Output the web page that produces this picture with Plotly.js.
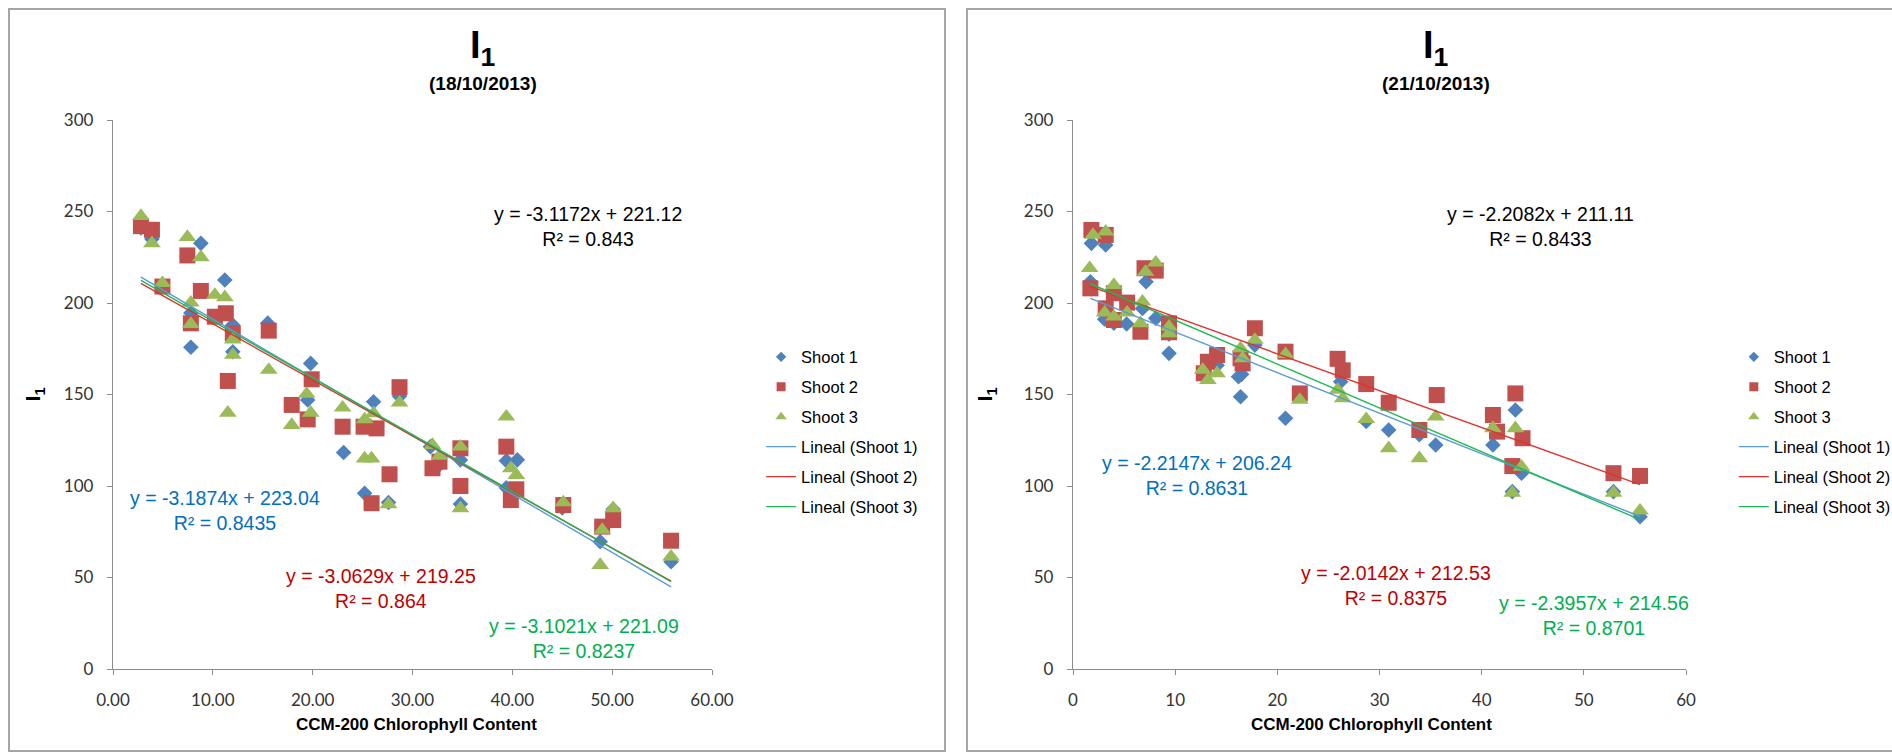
<!DOCTYPE html>
<html>
<head>
<meta charset="utf-8">
<script src="https://cdn.plot.ly/plotly-3.0.1.min.js"></script>
<style>
  html, body { margin: 0; padding: 0; background: #ffffff; }
  body { width: 1892px; height: 756px; position: relative; overflow: hidden; }
  .frame { position: absolute; border: 2px solid #a6a6a6; box-sizing: border-box; }
  .plot { position: absolute; top: 0; width: 946px; height: 756px; }
</style>
</head>
<body>
<div class="frame" style="left:8px; top:8px; width:938px; height:744px;"></div>
<div class="frame" style="left:966px; top:8px; width:940px; height:744px;"></div>
<div id="chartL" class="plot" style="left:0px;"></div>
<div id="chartR" class="plot" style="left:946px;"></div>
<script>
// ---------- Chart 1 : 18/10/2013 ----------
const titleL = "(18/10/2013)";
const L_s1_x = [2.8, 3.9, 7.8, 7.8, 8.8, 11.2, 12.0, 12.0, 15.5, 19.8, 19.5, 26.1, 28.7, 23.1, 25.2, 27.6, 31.8, 32.6, 34.8, 34.8, 39.4, 40.5, 39.4, 45.0, 48.8, 50.1, 55.9];
const L_s1_y = [241, 235, 194.5, 175.8, 232.6, 212.6, 188, 173.4, 189, 167, 147, 146, 149, 118.3, 96, 91, 121.5, 111, 114.2, 90.2, 113.8, 114.3, 99, 88, 69.6, 87.3, 58.6];
const L_s2_x = [2.8, 3.9, 7.45, 4.95, 8.8, 11.3, 10.2, 7.8, 12.0, 15.6, 11.5, 19.9, 17.9, 19.5, 23.0, 25.1, 26.4, 28.7, 27.7, 25.9, 32.0, 32.7, 34.8, 34.8, 39.4, 40.4, 39.85, 45.1, 49.0, 50.1, 55.9];
const L_s2_y = [242, 240, 226, 209, 206.6, 194.4, 192.5, 188.9, 183.4, 184.9, 157.4, 158.3, 144.3, 136.4, 132.4, 132.4, 131.5, 154, 106.4, 90.6, 109.7, 113.3, 120.6, 100, 121.5, 98.2, 92.3, 89.6, 77.8, 81.4, 70.1];
const L_s3_x = [2.8, 3.9, 7.45, 8.8, 4.95, 10.2, 11.2, 7.8, 7.8, 12.0, 12.0, 15.6, 11.5, 19.4, 19.8, 17.9, 23.0, 25.2, 26.1, 28.7, 25.2, 25.9, 27.6, 32.0, 32.7, 34.8, 34.8, 39.4, 39.85, 40.4, 45.1, 49.0, 48.8, 50.1, 55.9];
const L_s3_y = [247.5, 232.6, 236, 225, 210.8, 204.4, 203.1, 200.2, 188.5, 180, 171.6, 163.4, 140, 150.3, 140, 133.3, 142.8, 136.4, 139.7, 145.5, 115, 115, 90, 122.4, 116.4, 121.5, 87.8, 137.9, 109.7, 106, 91, 76, 56.8, 87.8, 61.4];
const L_slopes = [-3.1874, -3.0629, -3.1021];
const L_intercepts = [223.04, 219.25, 221.09];
const L_r2 = [0.8435, 0.864, 0.8237];
const L_all = [-3.1172, 221.12, 0.843];
const L_xTickLabels = ["0.00", "10.00", "20.00", "30.00", "40.00", "50.00", "60.00"];

// ---------- Chart 2 : 21/10/2013 ----------
const titleR = "(21/10/2013)";
const R_s1_x = [1.8, 3.2, 1.7, 7.15, 5.25, 6.8, 3.1, 4.0, 8.1, 9.4, 9.4, 12.8, 14.1, 16.2, 16.5, 16.4, 17.8, 20.8, 22.2, 26.2, 28.7, 30.9, 33.9, 35.5, 41.1, 43.3, 43.9, 43.0, 52.9, 55.5];
const R_s1_y = [232.6, 231.7, 211.6, 211.6, 188.5, 197, 191.1, 189, 191.6, 183, 172.5, 160, 166, 159.7, 161, 148.8, 177, 137, 150, 157, 135.3, 130.6, 128, 122.4, 122.4, 141.5, 107, 96.9, 96.9, 83.2];
const R_s2_x = [1.8, 3.2, 1.7, 7.0, 8.1, 4.0, 5.3, 6.6, 3.2, 4.0, 9.4, 9.4, 12.8, 13.2, 14.1, 16.4, 16.6, 17.8, 20.8, 22.2, 25.9, 26.4, 28.7, 30.9, 33.9, 35.6, 41.1, 41.5, 43.3, 44.0, 43.0, 52.9, 55.5];
const R_s2_y = [239.9, 237.2, 208, 219, 217.7, 205.3, 200.2, 184.3, 197.1, 190.7, 188.9, 184, 161.6, 167.9, 171.6, 169.8, 167, 186.2, 173.4, 150.6, 169.5, 163.2, 155.7, 145.5, 130.6, 149.7, 138.8, 129.7, 150.6, 126.1, 110.9, 107, 105.5];
const R_s3_x = [1.96, 3.2, 1.63, 7.1, 8.1, 4.0, 5.3, 6.8, 6.6, 3.1, 4.0, 9.4, 9.4, 12.7, 13.2, 14.1, 16.4, 16.6, 17.8, 20.8, 22.2, 25.9, 26.4, 28.7, 30.9, 33.9, 35.5, 41.1, 43.3, 43.9, 43.0, 52.9, 55.5];
const R_s3_y = [237.2, 239, 219, 217, 222, 209.8, 194.7, 200.7, 188.9, 194.7, 192.5, 187, 183.4, 163.4, 157.9, 161.6, 175.2, 169.8, 179.8, 172, 147, 152.5, 147.9, 136.5, 120.6, 115.1, 137.9, 131.5, 131.5, 110.5, 96.3, 96.3, 86.5];
const R_slopes = [-2.2147, -2.0142, -2.3957];
const R_intercepts = [206.24, 212.53, 214.56];
const R_r2 = [0.8631, 0.8375, 0.8701];
const R_all = [-2.2082, 211.11, 0.8433];
const R_xTickLabels = ["0", "10", "20", "30", "40", "50", "60"];

const xTickVals = [0, 10, 20, 30, 40, 50, 60];
const yTickVals = [0, 50, 100, 150, 200, 250, 300];
const seriesNames = ["Shoot 1", "Shoot 2", "Shoot 3"];
const trendNames = ["Lineal (Shoot 1)", "Lineal (Shoot 2)", "Lineal (Shoot 3)"];

// styles
const markerColors = ["#4f81bd", "#c0504d", "#9bbb59"];
const markerSymbols = ["diamond", "square", "triangle-up"];
const markerSizes = [12, 16, 15.5];
const legendMarkerSizes = [8, 9, 10];
const lineColors = ["#5b9bd5", "#e0322c", "#1db954"];
const eqColors = ["#0070c0", "#c00000", "#00b050"];
const sans = "'Liberation Sans', Arial, sans-serif";
const tickFam = "Lato, 'Open Sans', sans-serif";

function eqText(m, b, r2) {
  const sign = b >= 0 ? " + " : " - ";
  return "y = " + m + "x" + sign + Math.abs(b) + "<br>R\u00b2 = " + r2;
}

function build(divId, xs, ys, slopes, intercepts, r2s, all, title, xTickLabels, cfg) {
  const traces = [];
  // scatter marks (legend entries drawn by small legend-only traces below)
  for (let i = 0; i < 3; i++) {
    traces.push({
      type: "scatter", mode: "markers", name: seriesNames[i],
      x: xs[i], y: ys[i], showlegend: false,
      marker: { symbol: markerSymbols[i], size: markerSizes[i], color: markerColors[i],
                line: { width: 0 } },
      hoverinfo: "x+y"
    });
  }
  // legend swatches for the marker series (no data of their own)
  for (let i = 0; i < 3; i++) {
    traces.push({
      type: "scatter", mode: "markers", name: seriesNames[i], legendgroup: "m" + i,
      x: [null], y: [null], showlegend: true,
      marker: { symbol: markerSymbols[i], size: legendMarkerSizes[i], color: markerColors[i],
                line: { width: 0 } },
      hoverinfo: "skip"
    });
  }
  // linear trendlines from the fitted coefficients, across each series' x span
  for (let i = 0; i < 3; i++) {
    const xmin = Math.min.apply(null, xs[i]);
    const xmax = Math.max.apply(null, xs[i]);
    traces.push({
      type: "scatter", mode: "lines", name: trendNames[i], legendgroup: "t" + i,
      x: [xmin, xmax], y: [slopes[i] * xmin + intercepts[i], slopes[i] * xmax + intercepts[i]],
      line: { color: lineColors[i], width: 1.4 }, hoverinfo: "skip"
    });
  }
  const ann = [];
  ann.push({ xref: "paper", yref: "paper", x: cfg.titleX, y: 1.131, xanchor: "center", yanchor: "middle",
             showarrow: false, text: "<b>I<sub>1</sub></b>",
             font: { family: sans, size: 38, color: "#000" } });
  ann.push({ xref: "paper", yref: "paper", x: cfg.titleX, y: 1.066, xanchor: "center", yanchor: "middle",
             showarrow: false, text: "<b>" + title + "</b>",
             font: { family: sans, size: 19, color: "#000" } });
  ann.push({ xref: "paper", yref: "paper", x: cfg.xTitleX, y: -0.102, xanchor: "center", yanchor: "middle",
             showarrow: false, text: "<b>CCM-200 Chlorophyll Content</b>",
             font: { family: sans, size: 17, color: "#000" } });
  ann.push({ xref: "paper", yref: "paper", x: cfg.yTitleX, y: 0.5, xanchor: "center", yanchor: "middle",
             showarrow: false, textangle: -90, text: "<b>I<sub>1</sub></b>",
             font: { family: sans, size: 21, color: "#000" } });
  ann.push({ xref: "x", yref: "y", x: cfg.eqAll[0], y: cfg.eqAll[1], showarrow: false,
             text: eqText(all[0], all[1], all[2]), font: { family: sans, size: 19.5, color: "#000" } });
  for (let i = 0; i < 3; i++) {
    ann.push({ xref: "x", yref: "y", x: cfg.eqPos[i][0], y: cfg.eqPos[i][1], showarrow: false,
               text: eqText(slopes[i], intercepts[i], r2s[i]),
               font: { family: sans, size: 19.5, color: eqColors[i] } });
  }
  const axisCommon = {
    showline: true, linecolor: "#8c8c8c", linewidth: 1.3, ticks: "outside", ticklen: 5,
    tickcolor: "#8c8c8c", tickwidth: 1.3, showgrid: false, zeroline: false,
    tickfont: { family: tickFam, size: 17, color: "#333" }, fixedrange: true
  };
  const layout = {
    width: 946, height: 756,
    margin: { l: cfg.ml, r: cfg.mr, t: 120, b: 87, autoexpand: false },
    paper_bgcolor: "rgba(0,0,0,0)", plot_bgcolor: "rgba(0,0,0,0)",
    showlegend: true,
    legend: { x: cfg.legX, xanchor: "left", y: 0.6, yanchor: "top", tracegroupgap: 5.5,
              traceorder: "grouped",
              font: { family: sans, size: 16.5, color: "#000" }, bgcolor: "rgba(0,0,0,0)" },
    xaxis: Object.assign({}, axisCommon, { range: [0, 60], tickvals: xTickVals, ticktext: xTickLabels,
                                           tickmode: "array", ticklabelstandoff: 10 }),
    yaxis: Object.assign({}, axisCommon, { range: [0, 300], tickvals: yTickVals, tickmode: "array",
                                           ticklabelstandoff: 10 }),
    annotations: ann,
    hovermode: "closest"
  };
  Plotly.newPlot(divId, traces, layout, { displayModeBar: false });
}

build("chartL", [L_s1_x, L_s2_x, L_s3_x], [L_s1_y, L_s2_y, L_s3_y], L_slopes, L_intercepts, L_r2, L_all,
      titleL, L_xTickLabels,
      { ml: 113, mr: 234, titleX: 0.617, xTitleX: 0.507, yTitleX: -0.132, legX: 1.082,
        eqAll: [47.6, 241.6], eqPos: [[11.25, 86.7], [26.85, 43.8], [47.2, 16.8]] });
build("chartR", [R_s1_x, R_s2_x, R_s3_x], [R_s1_y, R_s2_y, R_s3_y], R_slopes, R_intercepts, R_r2, R_all,
      titleR, R_xTickLabels,
      { ml: 127, mr: 206, titleX: 0.592, xTitleX: 0.487, yTitleX: -0.142, legX: 1.078,
        eqAll: [45.8, 241.6], eqPos: [[12.1, 105.5], [31.6, 45.5], [51.0, 29.0]] });
</script>
</body>
</html>
